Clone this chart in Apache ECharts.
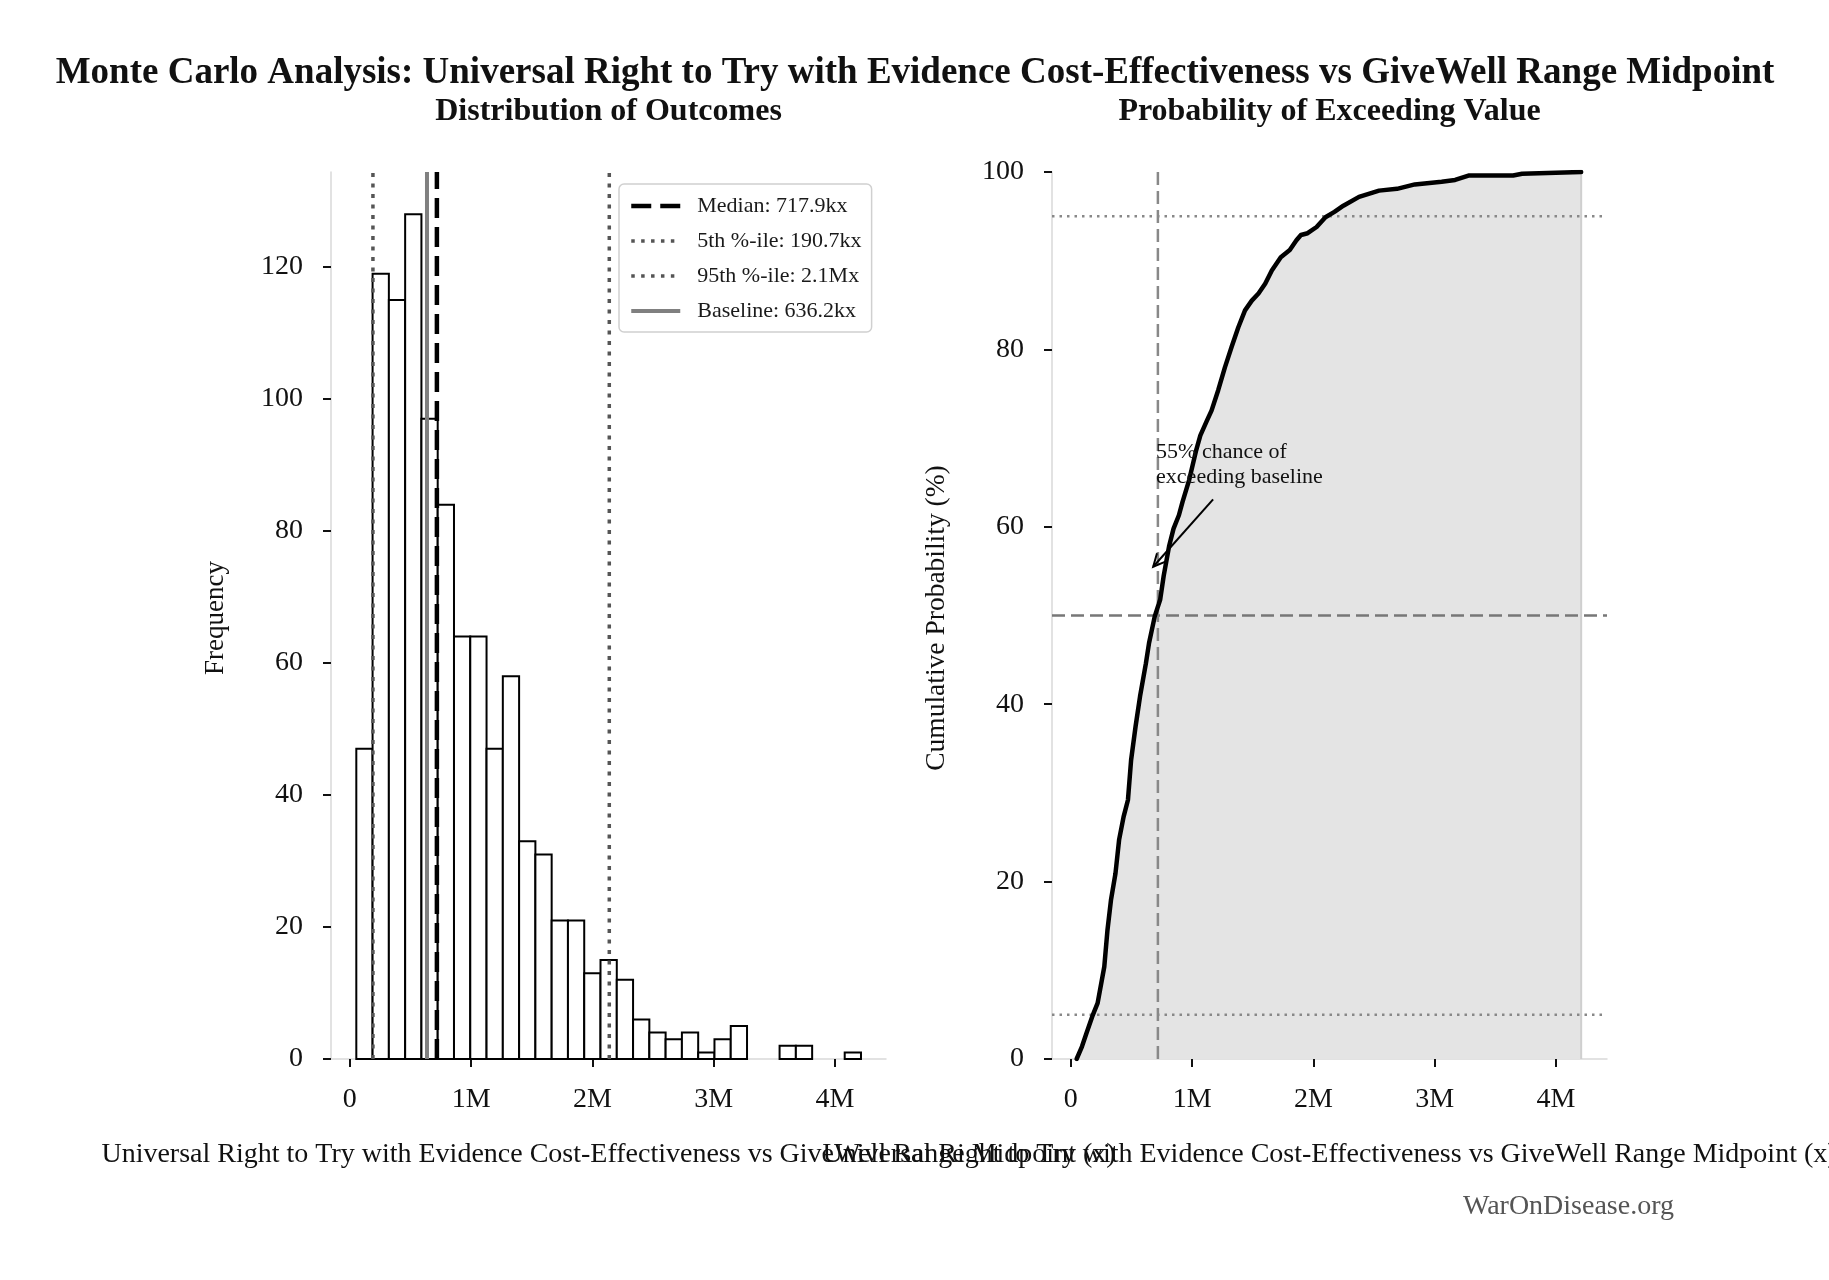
<!DOCTYPE html>
<html>
<head>
<meta charset="utf-8">
<script src="https://cdn.jsdelivr.net/npm/echarts@6/dist/echarts.min.js"></script>
<style>
html,body{margin:0;padding:0;background:#fff;}
#chart{width:1829px;height:1280px;}
</style>
</head>
<body>
<div id="chart"></div>
<script>
// ---------- data ----------
const binEdges = [53600, 187800, 322000, 456200, 590400, 724600, 858800, 993000, 1127200, 1261400,
  1395600, 1529800, 1664000, 1798200, 1932400, 2066600, 2200800, 2335000, 2469200, 2603400,
  2737600, 2871800, 3006000, 3140200, 3274400, 3408600, 3542800, 3677000, 3811200, 3945400,
  4079600, 4213800];
const binCounts = [47, 119, 115, 128, 97, 84, 64, 64, 47, 58, 33, 31, 21, 21, 13, 15, 12, 6, 4, 3,
  4, 1, 3, 5, 0, 0, 2, 2, 0, 0, 1];

const cdfX = [48000, 92000, 129000, 177000, 221000, 276000, 302000, 331000, 368000, 398000,
  435000, 471000, 497000, 534000, 571000, 619000, 645000, 692000, 737000, 766000,
  810000, 847000, 891000, 921000, 976000, 1031000, 1068000, 1123000, 1160000, 1215000,
  1271000, 1326000, 1381000, 1436000, 1492000, 1547000, 1602000, 1657000, 1731000, 1805000,
  1860000, 1897000, 1952000, 2026000, 2099000, 2173000, 2247000, 2376000, 2541000, 2689000,
  2836000, 3057000, 3168000, 3278000, 3646000, 3720000, 4207000];
const cdfY = [0, 1.4, 2.9, 4.8, 6.3, 10.4, 14.5, 17.9, 20.9, 24.7,
  27.3, 29.2, 33.7, 37.5, 40.9, 44.6, 46.9, 49.9, 51.8, 54.5,
  57.8, 59.8, 61.3, 62.8, 65.3, 68.5, 70.3, 72.0, 73.1, 75.4,
  78.0, 80.3, 82.5, 84.4, 85.5, 86.3, 87.4, 88.9, 90.4, 91.2,
  92.3, 92.9, 93.1, 93.8, 94.9, 95.5, 96.2, 97.2, 97.9, 98.1,
  98.6, 98.9, 99.1, 99.6, 99.6, 99.8, 100];

const medianValue = 717900;
const p5Value = 190700;
const p95Value = 2139000;
const baselineValue = 636200;
const statNames = ['Median: 717.9kx', '5th %-ile: 190.7kx', '95th %-ile: 2.1Mx', 'Baseline: 636.2kx'];

const xTicks = [0, 1000000, 2000000, 3000000, 4000000];
const xTickLabels = ['0', '1M', '2M', '3M', '4M'];
const yTicksLeft = [0, 20, 40, 60, 80, 100, 120];
const yTicksRight = [0, 20, 40, 60, 80, 100];
const refLevels = [5, 50, 95];

const annText = '55% chance of\nexceeding baseline';
const annTextPos = [703000, 67.0];
const annTail = [1173000, 63.1];
const annTip = [679000, 55.5];

const titleText = 'Monte Carlo Analysis: Universal Right to Try with Evidence Cost-Effectiveness vs GiveWell Range Midpoint';
const subTitles = ['Distribution of Outcomes', 'Probability of Exceeding Value'];
const xName = 'Universal Right to Try with Evidence Cost-Effectiveness vs GiveWell Range Midpoint (x)';
const yNames = ['Frequency', 'Cumulative Probability (%)'];
const watermark = 'WarOnDisease.org';

// ---------- layout / style ----------
const FONT = '"Liberation Serif", "Times New Roman", serif';
const X_MIN = -155000, X_MAX = 4420000;
const Y_MAX_LEFT = 134.4;
const G = [
  {left: 331, top: 172, width: 555, height: 887},
  {left: 1052, top: 172, width: 555, height: 887}
];
const statStyles = [
  {color: '#000000', width: 4.5, type: [20, 9]},
  {color: '#555555', width: 3.5, type: [4, 6.5]},
  {color: '#555555', width: 3.5, type: [4, 6.5]},
  {color: '#808080', width: 4, type: 'solid'}
];
const legendStyles = [
  {color: '#000000', width: 4.5, type: [20, 9]},
  {color: '#555555', width: 3.5, type: [3.5, 6.4]},
  {color: '#555555', width: 3.5, type: [3.5, 6.4]},
  {color: '#808080', width: 4, type: 'solid'}
];

const chart = echarts.init(document.getElementById('chart'), null, {renderer: 'canvas'});

function xAxisCfg(idx) {
  return {
    type: 'value', gridIndex: idx, min: X_MIN, max: X_MAX,
    axisLine: {show: true, onZero: false, lineStyle: {color: '#d9d9d9', width: 1.5}},
    axisTick: {show: true, customValues: xTicks, length: 8, lineStyle: {color: '#111', width: 2}},
    axisLabel: {customValues: xTicks, margin: 27, fontFamily: FONT, fontSize: 28, color: '#111',
      formatter: v => xTickLabels[xTicks.indexOf(v)] ?? ''},
    splitLine: {show: false}
  };
}
function yAxisCfg(idx, max, ticks) {
  return {
    type: 'value', gridIndex: idx, min: 0, max: max,
    axisLine: {show: true, onZero: false, lineStyle: {color: '#d9d9d9', width: 1.5}},
    axisTick: {show: true, customValues: ticks, length: 8, lineStyle: {color: '#111', width: 2}},
    axisLabel: {customValues: ticks, margin: 28, fontFamily: FONT, fontSize: 28, color: '#111',
      formatter: v => String(v)},
    splitLine: {show: false}
  };
}

const histData = binCounts.map((c, i) => [binEdges[i], binEdges[i + 1], c]);

function vline(idx, x, ymax, z) {
  const s = statStyles[idx];
  return {
    name: statNames[idx], type: 'line', xAxisIndex: 0, yAxisIndex: 0,
    data: [[x, 0], [x, ymax]], symbol: 'none', silent: true, z: z,
    itemStyle: {color: s.color},
    lineStyle: {color: s.color, width: s.width, type: s.type}
  };
}

const series = [
  {
    type: 'custom', xAxisIndex: 0, yAxisIndex: 0, z: 2, silent: true,
    data: histData,
    encode: {x: [0, 1], y: 2},
    renderItem: function (params, api) {
      const c = api.value(2);
      if (!c) return null;
      const p0 = api.coord([api.value(0), 0]);
      const p1 = api.coord([api.value(1), c]);
      return {
        type: 'rect',
        shape: {x: p0[0], y: p1[1], width: p1[0] - p0[0], height: p0[1] - p1[1]},
        style: {fill: '#ffffff', stroke: '#000000', lineWidth: 2}
      };
    }
  },
  vline(0, medianValue, Y_MAX_LEFT, 6),
  vline(1, p5Value, Y_MAX_LEFT, 5),
  vline(2, p95Value, Y_MAX_LEFT, 5),
  vline(3, baselineValue, Y_MAX_LEFT, 5),
  // right: cdf fill
  {
    type: 'line', xAxisIndex: 1, yAxisIndex: 1, z: 3, silent: true,
    data: cdfX.map((x, i) => [x, cdfY[i]]),
    symbol: 'none',
    lineStyle: {color: '#000000', width: 0},
    areaStyle: {color: '#e4e4e4', opacity: 1, origin: 'start'}
  },
  {
    type: 'line', xAxisIndex: 1, yAxisIndex: 1, z: 3, silent: true,
    data: [[cdfX[cdfX.length - 1], 0], [cdfX[cdfX.length - 1], 100]],
    symbol: 'none', lineStyle: {color: '#cfcfcf', width: 2}
  },
  {
    type: 'line', xAxisIndex: 1, yAxisIndex: 1, z: 4, silent: true,
    data: [[X_MIN, refLevels[0]], [X_MAX, refLevels[0]]],
    symbol: 'none', lineStyle: {color: '#888888', width: 2.5, type: [2.5, 5]}
  },
  {
    type: 'line', xAxisIndex: 1, yAxisIndex: 1, z: 4, silent: true,
    data: [[X_MIN, refLevels[2]], [X_MAX, refLevels[2]]],
    symbol: 'none', lineStyle: {color: '#888888', width: 2.5, type: [2.5, 5]}
  },
  {
    type: 'line', xAxisIndex: 1, yAxisIndex: 1, z: 4, silent: true,
    data: [[X_MIN, refLevels[1]], [X_MAX, refLevels[1]]],
    symbol: 'none', lineStyle: {color: '#777777', width: 2.5, type: [13, 6]}
  },
  {
    type: 'line', xAxisIndex: 1, yAxisIndex: 1, z: 4, silent: true,
    data: [[medianValue, 0], [medianValue, 100]],
    symbol: 'none', lineStyle: {color: '#888888', width: 2.5, type: [13, 6]}
  },
  {
    type: 'line', xAxisIndex: 1, yAxisIndex: 1, z: 6, silent: true,
    data: cdfX.map((x, i) => [x, cdfY[i]]),
    symbol: 'none',
    lineStyle: {color: '#000000', width: 4.5, join: 'round', cap: 'round'}
  },
  // annotation
  {
    type: 'custom', xAxisIndex: 1, yAxisIndex: 1, z: 8, silent: true,
    data: [[annTail[0], annTail[1], annTip[0], annTip[1], annTextPos[0], annTextPos[1]]],
    renderItem: function (params, api) {
      const a = api.coord([api.value(0), api.value(1)]);
      const b = api.coord([api.value(2), api.value(3)]);
      const t = api.coord([api.value(4), api.value(5)]);
      const ang = Math.atan2(b[1] - a[1], b[0] - a[0]);
      const L = 14, h = 0.45;
      const l1 = [b[0] - L * Math.cos(ang - h), b[1] - L * Math.sin(ang - h)];
      const l2 = [b[0] - L * Math.cos(ang + h), b[1] - L * Math.sin(ang + h)];
      return {
        type: 'group',
        children: [
          {type: 'text', style: {text: annText, x: t[0], y: t[1], align: 'left', verticalAlign: 'middle',
            textAlign: 'left', textVerticalAlign: 'middle', lineHeight: 25,
            font: '22px ' + FONT, fill: '#111'}},
          {type: 'line', shape: {x1: a[0], y1: a[1], x2: b[0], y2: b[1]},
            style: {stroke: '#000', lineWidth: 2}},
          {type: 'polyline', shape: {points: [l1, b, l2]},
            style: {stroke: '#000', lineWidth: 2, fill: null}}
        ]
      };
    }
  }
];

function txt(text, x, y, size, opts) {
  opts = opts || {};
  return {
    type: 'text', x: x, y: y, rotation: opts.rotation || 0, silent: true,
    style: {
      text: text, font: (opts.bold ? 'bold ' : '') + size + 'px ' + FONT,
      fill: opts.color || '#111',
      textAlign: opts.align || 'center', textVerticalAlign: 'middle',
      align: opts.align || 'center', verticalAlign: 'middle'
    }
  };
}

const option = {
  animation: false,
  backgroundColor: '#ffffff',
  grid: G.map(g => Object.assign({containLabel: false}, g)),
  xAxis: [xAxisCfg(0), xAxisCfg(1)],
  yAxis: [yAxisCfg(0, Y_MAX_LEFT, yTicksLeft), yAxisCfg(1, 100, yTicksRight)],
  legend: {
    data: statNames.map((n, i) => ({
      name: n,
      itemStyle: {opacity: 0, color: 'rgba(0,0,0,0)', borderWidth: 0},
      lineStyle: {color: legendStyles[i].color, width: legendStyles[i].width, type: legendStyles[i].type, opacity: 1}
    })),
    orient: 'vertical', left: 619, top: 184,
    selectedMode: false,
    itemWidth: 49, itemHeight: 14, itemGap: 13,
    padding: [11, 10, 10, 10],
    borderColor: '#d0d0d0', borderWidth: 1.5, borderRadius: 5,
    backgroundColor: '#ffffff',
    textStyle: {fontFamily: FONT, fontSize: 22, color: '#1a1a1a', padding: [0, 0, 0, 12]}
  },
  graphic: [
    txt(titleText, 915, 73, 37, {bold: true}),
    txt(subTitles[0], G[0].left + G[0].width / 2, 112, 32, {bold: true}),
    txt(subTitles[1], G[1].left + G[1].width / 2, 112, 32, {bold: true}),
    txt(yNames[0], 216, 618, 27, {rotation: Math.PI / 2}),
    txt(yNames[1], 937, 618, 27.5, {rotation: Math.PI / 2}),
    txt(xName, G[0].left + G[0].width / 2, 1155, 28),
    txt(xName, G[1].left + G[1].width / 2, 1155, 28),
    txt(watermark, 1674, 1207, 28, {align: 'right', color: '#555'})
  ],
  series: series
};
chart.setOption(option);
</script>
</body>
</html>
